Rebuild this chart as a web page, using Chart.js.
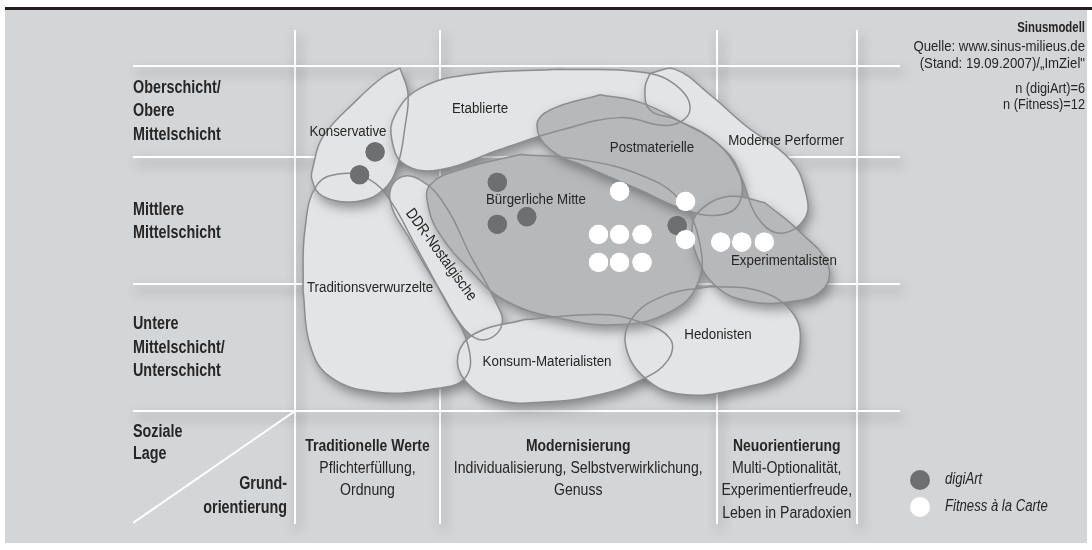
<!DOCTYPE html>
<html>
<head>
<meta charset="utf-8">
<script src="https://cdn.jsdelivr.net/npm/chart.js@4.4.0/dist/chart.umd.min.js"></script>
<style>
body{margin:0;background:#fff}
#wrap{position:relative;width:1092px;height:550px;overflow:hidden;background:#fff}
#rule{position:absolute;left:5px;top:7px;width:1087px;height:3px;background:#231f20}
#panel{position:absolute;left:5px;top:10px;width:1082px;height:533px;background:#d4d5d7}
canvas{position:absolute;left:0;top:0}
</style>
</head>
<body>
<div id="wrap"><div id="rule"></div><div id="panel"></div><canvas id="c" width="1092" height="550"></canvas></div>
<script>
// condensed look: Liberation Sans squeezed horizontally
const FONT = "'Liberation Sans', Arial, sans-serif";
const NARROW = 0.82;   // bold labels
const LIGHT = 0.88;    // regular text

// axes: x = Grundorientierung, y = soziale Lage
const gridX = [0, 10.32, 30, 40];
const gridY = [0, 10, 20, 27.2];
const xRange = [-11.53, 43.06];
const yRange = [-8.9, 30.0];
const diagonal = [[-11.53, -8.82], [0, 0]];

const rowLabels = [['Oberschicht/', 'Obere', 'Mittelschicht'], ['Mittlere', 'Mittelschicht'], ['Untere', 'Mittelschicht/', 'Unterschicht']];
const rowCenters = [23.6, 14.9, 4.95];
const cornerLeft = ['Soziale', 'Lage'];
const cornerRight = ['Grund-', 'orientierung'];
const colHeads = ['Traditionelle Werte', 'Modernisierung', 'Neuorientierung'];
const colLines = [['Pflichterfüllung,', 'Ordnung'], ['Individualisierung, Selbstverwirklichung,', 'Genuss'], ['Multi-Optionalität,', 'Experimentierfreude,', 'Leben in Paradoxien']];

// milieu outlines (in axis units)
const traditionsverwurzelte = [[0.57,9.5],[0.71,14.3],[1.57,17.8],[3.42,18.7],[5.34,18.2],[6.76,16.6],[8.54,13.1],[10.68,8.7],[12.31,5.2],[12.10,2.6],[9.61,1.7],[5.69,1.5],[2.49,2.7],[1.07,5.2]];
const konservative = [[7.47,27.0],[8.04,25.0],[7.83,22.4],[7.26,19.2],[6.26,17.4],[4.41,16.5],[1.99,16.9],[1.21,18.2],[1.28,19.2],[1.99,21.6],[4.41,24.5],[6.26,26.3]];
const etablierte = [[18.86,26.9],[24.56,26.7],[27.05,25.7],[28.11,23.7],[26.69,22.5],[23.13,23.1],[18.86,22.1],[14.59,20.6],[10.32,19.0],[7.83,19.4],[6.90,21.3],[7.12,23.3],[8.90,25.4],[12.46,26.5]];
const modernePerformer = [[25.27,26.6],[27.05,26.9],[29.54,24.9],[32.03,22.5],[35.23,19.8],[36.30,17.4],[36.30,15.2],[34.52,14.0],[32.88,15.3],[31.67,18.6],[30.04,21.1],[27.19,22.9],[25.27,23.7],[24.91,25.4]];
const ddrNostalgische = [[12.46,12.3],[14.23,8.7],[14.73,6.8],[13.52,5.6],[12.10,6.4],[10.32,9.5],[8.19,13.5],[6.76,16.6],[7.33,18.3],[8.90,18.2],[10.68,16.2]];
const konsumMaterialisten = [[16.37,7.2],[21.71,7.6],[24.56,7.0],[26.69,5.7],[26.55,4.0],[24.56,2.4],[21.71,1.3],[17.79,0.7],[14.23,0.9],[12.10,2.4],[11.60,4.4],[12.81,6.1]];
const hedonisten = [[29.54,9.8],[32.88,9.5],[35.37,7.8],[35.94,5.2],[34.95,3.1],[31.32,1.7],[27.62,1.3],[25.12,2.4],[23.56,5.0],[23.99,7.3],[26.33,9.1]];
const buergerlicheMitte = [[16.01,20.2],[20.28,19.8],[24.56,18.6],[27.40,16.6],[28.83,13.1],[28.61,9.9],[26.69,7.8],[23.13,6.8],[18.86,7.3],[14.95,8.7],[12.46,11.1],[10.32,13.9],[9.47,16.2],[9.61,17.8],[11.74,19.0]];
const postmaterielle = [[21.71,24.9],[24.56,24.3],[27.40,22.8],[30.25,20.9],[31.67,18.6],[31.53,16.2],[29.89,15.4],[27.40,16.0],[24.56,17.4],[21.00,19.1],[18.15,20.6],[17.22,22.5],[18.15,23.7]];
const experimentalisten = [[33.45,16.4],[35.94,14.1],[37.94,11.5],[37.51,9.5],[35.23,8.6],[32.03,8.7],[29.89,9.9],[28.68,12.0],[28.26,14.3],[28.83,15.8],[30.96,16.9]];

const milieuNames = ['Traditionsverwurzelte', 'Konservative', 'Etablierte', 'Moderne Performer', 'DDR-Nostalgische', 'Konsum-Materialisten', 'Hedonisten', 'Bürgerliche Mitte', 'Postmaterielle', 'Experimentalisten'];
const milieuShapes = [traditionsverwurzelte, konservative, etablierte, modernePerformer, ddrNostalgische, konsumMaterialisten, hedonisten, buergerlicheMitte, postmaterielle, experimentalisten];
const milieuLabelAt = [[5.34,9.7],[3.77,22.0],[13.17,23.8],[34.95,21.3],[10.39,12.3],[17.94,3.9],[30.11,6.0],[17.15,16.6],[25.41,20.7],[34.80,11.8]];

// respondents
const digiArt = [[5.7,20.4],[4.6,18.6],[14.4,18.0],[16.5,15.3],[14.4,14.7],[27.2,14.6]];
const fitness = [[23.1,17.3],[27.8,16.5],[21.6,13.9],[23.1,13.9],[24.7,13.9],[27.8,13.5],[30.3,13.3],[31.8,13.3],[33.4,13.3],[21.6,11.7],[23.1,11.7],[24.7,11.7]];
const seriesNames = ['digiArt', 'Fitness à la Carte'];

// styles
const darkMilieus = ['Bürgerliche Mitte', 'Postmaterielle', 'Experimentalisten'];
const lightFill = '#e3e4e5', darkFill = '#b7b8ba', outline = '#8c8d8f';
const digiColor = '#6e6f71', fitColor = '#ffffff';
const textColor = '#262626';

const toXY = a => a.map(p => ({x: p[0], y: p[1]}));
const closed = a => toXY(a.concat([a[0]]));

const datasets = [];
milieuShapes.forEach((pts, i) => {
    datasets.push({
        type: 'line', label: milieuNames[i], data: closed(pts),
        fill: 'shape', backgroundColor: darkMilieus.includes(milieuNames[i]) ? darkFill : lightFill,
        borderColor: 'rgba(0,0,0,0)', borderWidth: 1, pointRadius: 0, tension: 0.42, order: 100 - i
    });
});
milieuShapes.forEach((pts, i) => {
    datasets.push({
        type: 'line', label: milieuNames[i] + ' Rand', data: closed(pts),
        fill: false, borderColor: outline, borderWidth: 1.5, pointRadius: 0, tension: 0.42, order: 50
    });
});
datasets.push({type: 'line', label: 'Diagonale', data: toXY(diagonal), fill: false, borderColor: '#fff', borderWidth: 2, pointRadius: 0, order: 40});
datasets.push({label: seriesNames[0], data: toXY(digiArt), backgroundColor: digiColor, pointRadius: 9.6, pointBorderWidth: 0, order: 2, dots: true});
datasets.push({label: seriesNames[1], data: toXY(fitness), backgroundColor: fitColor, pointRadius: 9.6, pointBorderWidth: 0, order: 1, dots: true});

function say(ctx, t, x, y, font, align, squeeze, angle) {
    ctx.save();
    ctx.translate(x, y);
    if (angle) ctx.rotate(angle * Math.PI / 180);
    ctx.scale(squeeze || NARROW, 1);
    ctx.font = font + ' ' + FONT;
    ctx.textAlign = align;
    ctx.fillText(t, 0, 0);
    ctx.restore();
}

const texts = {
    id: 'texts',
    beforeDraw(chart) {
        const c = chart.ctx;
        c.save();
        c.shadowColor = 'rgba(60,60,62,0.5)';
        c.shadowBlur = 11;
        c.shadowOffsetX = 3;
        c.shadowOffsetY = 6;
    },
    beforeDatasetsDraw(chart) {
        chart.ctx.restore();
    },
    afterDraw(chart) {
        const ctx = chart.ctx, xs = chart.scales.x, ys = chart.scales.y, a = chart.chartArea;
        // dots above the grid lines
        chart.data.datasets.forEach((d, i) => { if (d.dots) chart.getDatasetMeta(i).controller.draw(); });

        ctx.save();
        ctx.fillStyle = textColor;
        ctx.textBaseline = 'middle';

        // milieu names
        milieuNames.forEach((n, i) => {
            const px = xs.getPixelForValue(milieuLabelAt[i][0]), py = ys.getPixelForValue(milieuLabelAt[i][1]);
            say(ctx, n, px, py, '15.5px', 'center', 0.86, n == 'DDR-Nostalgische' ? 54 : 0);
        });

        // rows
        rowLabels.forEach((lines, i) => {
            const cy = ys.getPixelForValue(rowCenters[i]);
            lines.forEach((t, j) => say(ctx, t, a.left, cy + (j - (lines.length - 1) / 2) * 23.5, 'bold 17.5px', 'left'));
        });
        const base = ys.getPixelForValue(0);
        cornerLeft.forEach((t, j) => say(ctx, t, a.left, base + 21 + j * 22, 'bold 17.5px', 'left'));
        cornerRight.forEach((t, j) => say(ctx, t, xs.getPixelForValue(0) - 8, base + 73 + j * 24, 'bold 17.5px', 'right'));

        // columns
        colHeads.forEach((h, i) => {
            const cx = (xs.getPixelForValue(gridX[i]) + xs.getPixelForValue(gridX[i + 1])) / 2;
            say(ctx, h, cx, base + 35, 'bold 17px', 'center');
            colLines[i].forEach((t, j) => say(ctx, t, cx, base + 57.5 + j * 22.5, '16px', 'center', LIGHT));
        });

        // legend
        const lx = a.right + 20;
        [[digiColor, seriesNames[0]], [fitColor, seriesNames[1]]].forEach((s, j) => {
            const ly = a.bottom - 44 + j * 27;
            ctx.fillStyle = s[0];
            ctx.beginPath(); ctx.arc(lx, ly, 10, 0, Math.PI * 2); ctx.fill();
            ctx.fillStyle = textColor;
            say(ctx, s[1], lx + 25, ly, 'italic 16px', 'left');
        });

        // source box top right
        const rx = 1085;
        say(ctx, 'Sinusmodell', rx, 27.5, 'bold 15px', 'right', 0.76);
        say(ctx, 'Quelle: www.sinus-milieus.de', rx, 46.5, '14.5px', 'right', 0.91);
        say(ctx, '(Stand: 19.09.2007)/„ImZiel"', rx, 63.5, '14.5px', 'right', 0.91);
        say(ctx, 'n (digiArt)=' + digiArt.length, rx, 88.5, '14.5px', 'right', 0.88);
        say(ctx, 'n (Fitness)=' + fitness.length, rx, 105, '14.5px', 'right', 0.88);
        ctx.restore();
    }
};

const gridOpts = {color: '#ffffff', lineWidth: 2, drawTicks: false};
new Chart(document.getElementById('c'), {
    type: 'scatter',
    data: {datasets: datasets},
    options: {
        responsive: false,
        animation: false,
        events: [],
        layout: {padding: {left: 133, top: 30, right: 192, bottom: 26}, autoPadding: false},
        plugins: {
            legend: {display: false},
            tooltip: {enabled: false},
            filler: {drawTime: 'beforeDatasetsDraw', propagate: false}
        },
        scales: {
            x: {type: 'linear', min: xRange[0], max: xRange[1], z: 1, border: {display: false}, ticks: {display: false}, grid: gridOpts,
                afterBuildTicks: s => { s.ticks = gridX.map(v => ({value: v})); }},
            y: {type: 'linear', min: yRange[0], max: yRange[1], z: 1, border: {display: false}, ticks: {display: false}, grid: gridOpts,
                afterBuildTicks: s => { s.ticks = gridY.map(v => ({value: v})); }}
        }
    },
    plugins: [texts]
});
</script>
</body>
</html>
